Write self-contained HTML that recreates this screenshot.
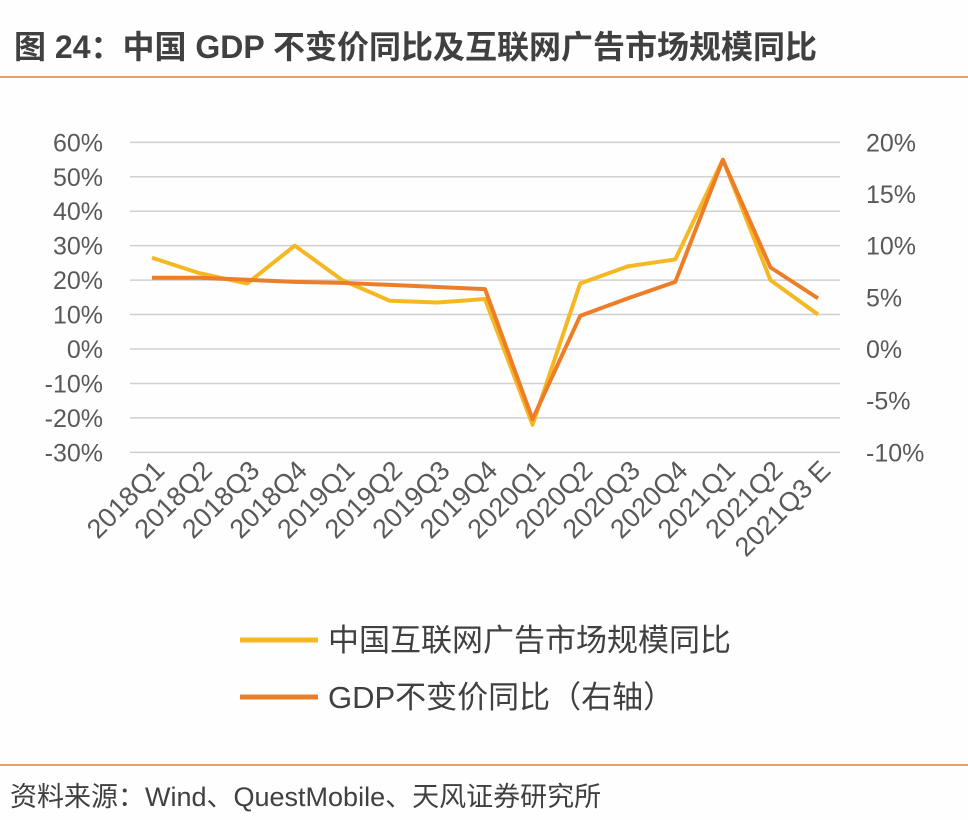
<!DOCTYPE html>
<html><head><meta charset="utf-8"><style>
body{margin:0;background:#fff;}
svg{display:block;font-family:"Liberation Sans","Noto Sans CJK SC",sans-serif;}
</style></head><body>
<svg width="968" height="820" viewBox="0 0 968 820">
<rect width="968" height="820" fill="#fefefe"/>
<text x="14" y="58" font-size="32" font-weight="bold" fill="#404040">图 24：中国 GDP 不变价同比及互联网广告市场规模同比</text>
<line x1="0" y1="77" x2="968" y2="77" stroke="#f0a060" stroke-width="2"/>
<g id="grid"></g><g id="axes"></g><g id="series"></g>
<g>
<line x1="240" y1="640" x2="318" y2="640" stroke="#f5b823" stroke-width="5"/>
<text x="328" y="651" font-size="31" fill="#404040">中国互联网广告市场规模同比</text>
<line x1="240" y1="697" x2="318" y2="697" stroke="#ee7d28" stroke-width="5"/>
<text x="328" y="708" font-size="31" fill="#404040">GDP不变价同比（右轴）</text>
</g>
<line x1="0" y1="765" x2="968" y2="765" stroke="#f0a060" stroke-width="2"/>
<text x="10" y="806" font-size="27" fill="#404040">资料来源：Wind、QuestMobile、天风证券研究所</text>
</svg>
<script>
const categories=["2018Q1","2018Q2","2018Q3","2018Q4","2019Q1","2019Q2","2019Q3","2019Q4","2020Q1","2020Q2","2020Q3","2020Q4","2021Q1","2021Q2","2021Q3 E"];
const adGrowth=[26.5,22,19,30,20,14,13.5,14.5,-22,19,24,26,55,20,10];
const gdpGrowth=[6.9,6.9,6.7,6.5,6.4,6.2,6.0,5.8,-6.8,3.2,4.9,6.5,18.3,7.9,4.9];
const leftTicks=[60,50,40,30,20,10,0,-10,-20,-30];
const rightTicks=[20,15,10,5,0,-5,-10];
const NS="http://www.w3.org/2000/svg";
const y0=349,yTop=142,yBot=452;
const yL=v=>y0-(v)*(yBot-yTop)/90;
const yR=v=>y0-(v)*(yBot-yTop)/30;
const x=i=>152+i*(818-152)/(categories.length-1);
function mk(t,a,p){const e=document.createElementNS(NS,t);for(const k in a)e.setAttribute(k,a[k]);p.appendChild(e);return e;}
const grid=document.getElementById('grid'),axes=document.getElementById('axes'),ser=document.getElementById('series');
leftTicks.forEach(v=>{
 const l=mk('line',{x1:130,x2:840,y1:yL(v),y2:yL(v),stroke:'#d0d0d0','stroke-width':1.5},grid);
 
 
 const t=mk('text',{x:103,y:yL(v)+9,'font-size':25,fill:'#595959','text-anchor':'end'},axes);
 t.textContent=v+'%';
 
 
});
rightTicks.forEach(v=>{
 const t=mk('text',{x:866,y:yR(v)+9,'font-size':25,fill:'#595959'},axes);
 t.textContent=v+'%';
 
 
});
categories.forEach((c,i)=>{
 const t=mk('text',{x:x(i)+14,y:472,'font-size':27,fill:'#595959','text-anchor':'end',transform:`rotate(-45 ${x(i)+14} 472)`},axes);
 t.textContent=c;
 
 
});
const p1=mk('polyline',{points:adGrowth.map((v,i)=>x(i)+','+yL(v)).join(' '),fill:'none',stroke:'#f5b823','stroke-width':4,'stroke-linejoin':'round'},ser);


const p2=mk('polyline',{points:gdpGrowth.map((v,i)=>x(i)+','+yR(v)).join(' '),fill:'none',stroke:'#ee7d28','stroke-width':4,'stroke-linejoin':'round'},ser);


</script>
</body></html>
